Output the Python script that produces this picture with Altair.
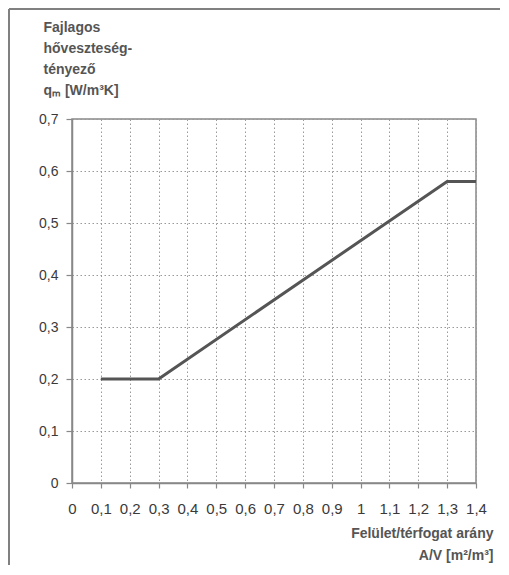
import altair as alt
import pandas as pd

# Data
av_ratio = [0.1, 0.3, 1.3, 1.4]
qm_values = [0.2, 0.2, 0.58, 0.58]
x_ticks = [0, 0.1, 0.2, 0.3, 0.4, 0.5, 0.6, 0.7, 0.8, 0.9, 1.0, 1.1, 1.2, 1.3, 1.4]
y_ticks = [0, 0.1, 0.2, 0.3, 0.4, 0.5, 0.6, 0.7]
y_title = ["Fajlagos", "hőveszteség-", "tényező", "qₘ [W/m³K]"]
x_title = ["Felület/térfogat arány", "A/V [m²/m³]"]

df = pd.DataFrame({"av": av_ratio, "qm": qm_values})

FONT = "Liberation Sans"
label_expr = "replace(format(datum.value, '.2~f'), '.', ',')"

line = alt.Chart(df).mark_line(color="#555555", strokeWidth=3, strokeJoin="miter").encode(
    x=alt.X(
        "av:Q",
        scale=alt.Scale(domain=[0, 1.4], nice=False, zero=True),
        axis=alt.Axis(
            values=x_ticks,
            labelExpr=label_expr,
            title=x_title,
            titleAlign="right",
            titleBaseline="alphabetic",
            titleX=421,
            titleY=54,
            titleLineHeight=22,
            titleFontSize=14,
            titleFontWeight="bold",
            titleColor="#555555",
            titleFont=FONT,
            labelFontSize=15,
            labelFont=FONT,
            labelColor="#3a3a3a",
            labelPadding=13,
            tickSize=5,
            labelFlush=False,
            labelOverlap=False,
        ),
    ),
    y=alt.Y(
        "qm:Q",
        scale=alt.Scale(domain=[0, 0.7], nice=False),
        axis=alt.Axis(
            values=y_ticks,
            labelExpr=label_expr,
            title=y_title,
            titleAngle=0,
            titleAlign="left",
            titleBaseline="alphabetic",
            titleX=-29,
            titleY=-88,
            titleLineHeight=21,
            titleFontSize=14,
            titleFontWeight="bold",
            titleColor="#555555",
            titleFont=FONT,
            labelFontSize=14,
            labelFont=FONT,
            labelColor="#3a3a3a",
            labelPadding=8,
            tickSize=6,
            labelFlush=False,
            labelOverlap=False,
        ),
    ),
)

frame_data = alt.Data(values=[{"k": 1}])
frame_left = alt.Chart(frame_data).mark_rule(color="#808080", strokeWidth=2).encode(
    x=alt.value(-63), y=alt.value(-110), y2=alt.value(446)
)
frame_top = alt.Chart(frame_data).mark_rule(color="#808080", strokeWidth=2).encode(
    x=alt.value(-63), x2=alt.value(428), y=alt.value(-110)
)

chart = (
    alt.layer(frame_left, frame_top, line)
    .properties(width=404, height=364, padding=0, background="white")
    .configure_view(stroke="#888888", strokeWidth=1.5)
    .configure_axis(
        domainColor="#888888",
        domainWidth=1.5,
        tickColor="#888888",
        tickWidth=1.2,
        gridColor="#999999",
        gridDash=[1.5, 2.5],
        gridWidth=1,
        gridOpacity=1,
    )
)

chart.save("out.html", embed_options={"renderer": "svg", "actions": False})
